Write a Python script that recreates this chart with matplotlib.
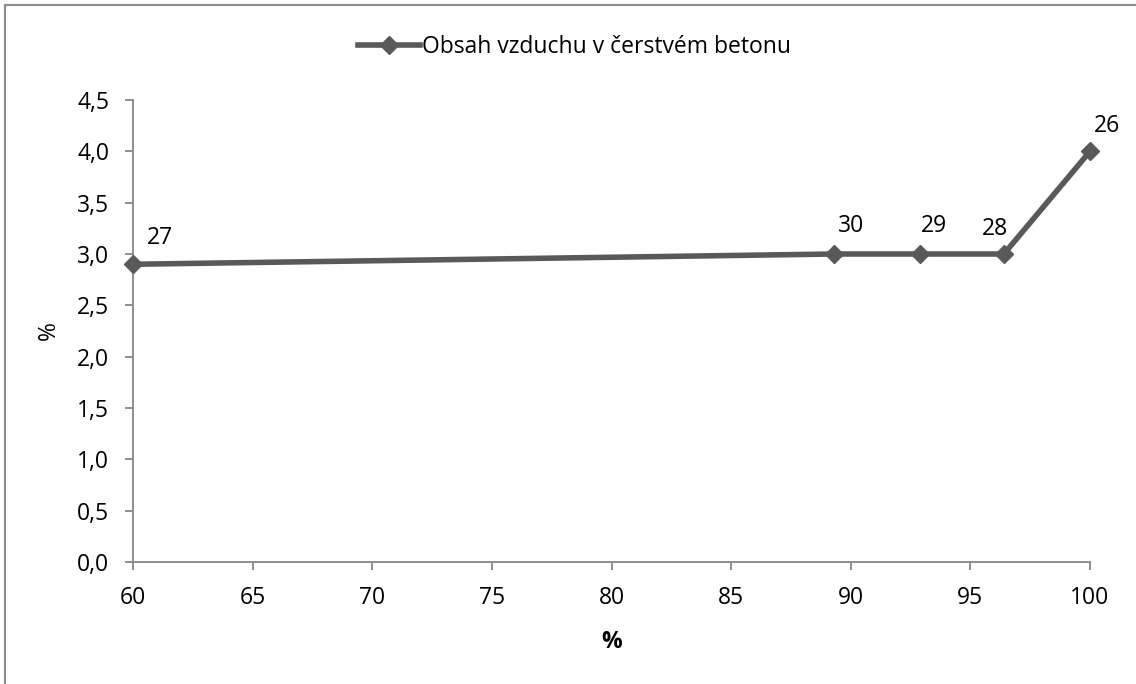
import matplotlib.pyplot as plt
from matplotlib.lines import Line2D
from matplotlib.ticker import FuncFormatter

plt.rcParams['font.family'] = ['Open Sans', 'DejaVu Sans']

# data
x_vals = [60, 89.3, 92.9, 96.4, 100]
y_vals = [2.9, 3.0, 3.0, 3.0, 4.0]
point_labels = ["27", "30", "29", "28", "26"]
series_name = "Obsah vzduchu v čerstvém betonu"

# label offsets in pixels (placement only)
label_offsets = [(27, 26), (17, 28), (14, 28), (-9, 25), (17, 25)]

LINE_COL = "#595959"
AXIS_COL = "#868686"
FS = 16.5

fig = plt.figure(figsize=(11.36, 6.84), dpi=100)
ax = fig.add_axes([133 / 1136, 1 - 562 / 684, 957 / 1136, 462 / 684])

ax.plot(x_vals, y_vals, color=LINE_COL, lw=4, marker="D", ms=9.5,
        clip_on=False, zorder=3)

for x, y, lab, off in zip(x_vals, y_vals, point_labels, label_offsets):
    ax.annotate(lab, (x, y), xytext=(off[0] * 0.72, off[1] * 0.72),
                textcoords="offset points", ha="center", va="center",
                fontsize=FS)

ax.set_xlim(60, 100)
ax.set_ylim(0, 4.5)
ax.set_xticks(range(60, 101, 5))
ax.set_yticks([i * 0.5 for i in range(10)])
ax.yaxis.set_major_formatter(FuncFormatter(lambda v, p: f"{v:.1f}".replace(".", ",")))

for s in ["top", "right"]:
    ax.spines[s].set_visible(False)
for s in ["left", "bottom"]:
    ax.spines[s].set_color(AXIS_COL)
    ax.spines[s].set_linewidth(1.3)
ax.tick_params(axis="both", colors=AXIS_COL, labelcolor="black",
               labelsize=FS, width=1.3, direction="out")
ax.tick_params(axis="x", length=5.5, pad=12)
ax.tick_params(axis="y", length=6, pad=11)

ax.set_xlabel("%", fontsize=FS, fontweight="bold", labelpad=14)
ax.set_ylabel("%", fontsize=FS, labelpad=12)

handle = Line2D([], [], color=LINE_COL, lw=4, marker="D", ms=9.5)
fig.legend([handle], [series_name], loc="center", bbox_to_anchor=(0.506, 0.931),
           frameon=False, fontsize=FS, handlelength=2.7, handletextpad=0.1)

# outer frame (top and left edges)
fig.add_artist(Line2D([5 / 1136, 5 / 1136], [0, 1 - 5 / 684],
                      transform=fig.transFigure, color="#8c8c8c", lw=1.5))
fig.add_artist(Line2D([5 / 1136, 1], [1 - 5 / 684, 1 - 5 / 684],
                      transform=fig.transFigure, color="#8c8c8c", lw=1.5))

fig.savefig("out.png", dpi=100)
